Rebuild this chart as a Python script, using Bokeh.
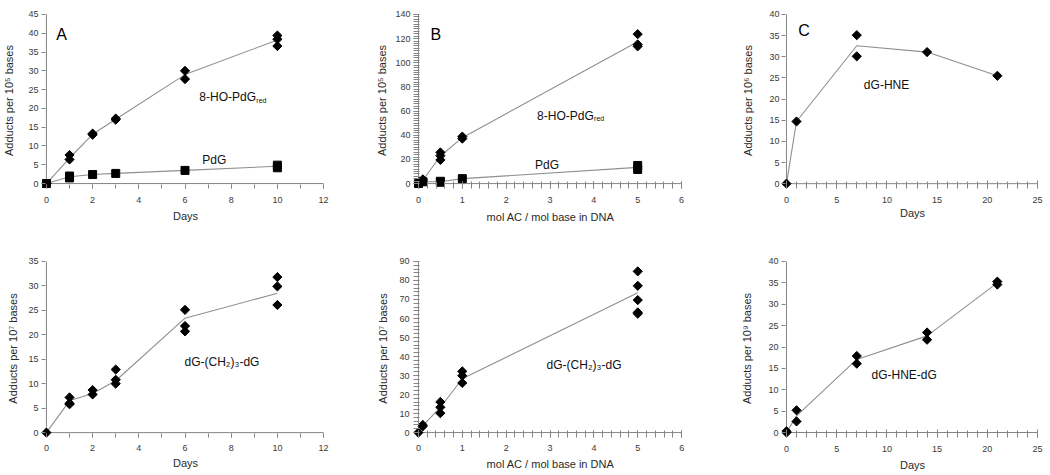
import math
from bokeh.plotting import figure
from bokeh.layouts import gridplot
from bokeh.models import Label, Range1d, SingleIntervalTicker
from bokeh.embed import file_html
from bokeh.resources import INLINE

# ---------------- data ----------------
# Panel A: adducts per 10^5 bases vs days
a_ho_days = [0, 1, 1, 2, 2, 3, 3, 6, 6, 10, 10, 10]
a_ho_vals = [0, 7.6, 6.4, 13.3, 13.0, 17.3, 17.0, 30.0, 27.8, 39.4, 38.4, 36.6]
a_mean_days = [0, 1, 2, 3, 6, 10]
a_ho_mean = [0, 6.8, 13.1, 17.1, 29.0, 38.2]
a_pdg_days = [0, 1, 1, 2, 3, 6, 10, 10]
a_pdg_vals = [0, 2.0, 1.5, 2.4, 2.7, 3.5, 4.9, 4.2]
a_pdg_mean = [0, 1.8, 2.4, 2.7, 3.5, 4.6]

# Panel B: adducts per 10^5 bases vs mol AC / mol base
b_ho_dose = [0, 0.1, 0.1, 0.5, 0.5, 0.5, 1, 1, 5, 5, 5]
b_ho_vals = [0, 3.5, 2.0, 25.8, 23.1, 19.6, 38.9, 37.2, 123.7, 115.2, 113.6]
b_mean_dose = [0, 0.1, 0.5, 1, 5]
b_ho_mean = [0, 2.8, 22.8, 38.0, 117.5]
b_pdg_dose = [0, 0.1, 0.5, 0.5, 1, 5, 5]
b_pdg_vals = [0, 1.5, 1.9, 1.1, 4.1, 15.0, 11.7]
b_pdg_mean = [0, 1.5, 1.5, 4.1, 13.4]

# Panel C: dG-HNE per 10^6 bases vs days
c_days = [0, 1, 7, 7, 14, 21]
c_vals = [0, 14.7, 35.1, 30.1, 31.1, 25.5]
c_mean_days = [0, 1, 7, 14, 21]
c_mean = [0, 14.7, 32.6, 31.1, 25.5]

# Panel D: dG-(CH2)3-dG per 10^7 bases vs days
d_days = [0, 1, 1, 1, 2, 2, 3, 3, 3, 6, 6, 6, 10, 10, 10]
d_vals = [0, 7.2, 6.0, 5.8, 8.7, 7.8, 12.9, 10.8, 10.0, 25.1, 21.8, 20.7, 31.8, 29.9, 26.1]
d_mean_days = [0, 1, 2, 3, 6, 10]
d_mean = [0, 6.5, 8.0, 10.6, 23.4, 28.5]

# Panel E: dG-(CH2)3-dG per 10^7 bases vs mol AC / mol base
e_dose = [0, 0.1, 0.1, 0.5, 0.5, 0.5, 1, 1, 1, 5, 5, 5, 5, 5]
e_vals = [0, 4.0, 3.3, 16.1, 13.3, 10.2, 32.2, 29.9, 26.1, 84.8, 77.2, 69.7, 63.2, 62.5]
e_mean_dose = [0, 0.1, 0.5, 1, 5]
e_mean = [0, 3.6, 13.2, 28.3, 73.5]

# Panel F: dG-HNE-dG per 10^9 bases vs days
f_days = [0, 0, 1, 1, 7, 7, 14, 14, 21, 21]
f_vals = [0, 0.3, 5.2, 2.6, 17.9, 16.1, 23.4, 21.7, 35.3, 34.6]
f_mean_days = [0, 1, 7, 14, 21]
f_mean = [0, 3.9, 17.1, 22.6, 35.0]

# ---------------- styling ----------------
AXIS_COLOR = "#858585"
TICK_TEXT = "#3a3a3a"
LABEL_TEXT = "#2a2a2a"
LINE_COLOR = "#8f8f8f"
FONT = "Liberation Sans"
PAD = 5  # px between frame edge and the data origin


class Panel:
    """A figure whose data origin / extent sit at given page pixel positions."""

    def __init__(self, fig_box, axis_box, xmax, ymax, xlabel, ylabel,
                 x_std, x_lab_std, y_std, y_lab_std):
        fl, ft, fw, fh = fig_box
        px0, px1, py0, py1 = axis_box
        self.px0, self.py0 = px0, py0
        self.xs = (px1 - px0) / xmax
        self.ys = (py0 - py1) / ymax
        padR, padT = 6, 2
        self.p = figure(
            width=fw, height=fh, output_backend="svg", toolbar_location=None,
            title=None,
            x_range=Range1d(-PAD / self.xs, xmax + padR / self.xs),
            y_range=Range1d(-PAD / self.ys, ymax + padT / self.ys),
            min_border_left=px0 - PAD - fl,
            min_border_right=max(0, fl + fw - (px1 + padR)),
            min_border_top=py1 - padT - ft,
            min_border_bottom=ft + fh - (py0 + PAD),
            background_fill_color="white", border_fill_color="white",
        )
        p = self.p
        p.outline_line_color = None
        p.grid.visible = False
        for ax in (p.xaxis, p.yaxis):
            ax.axis_line_color = None
            ax.major_tick_line_color = AXIS_COLOR
            ax.minor_tick_line_color = AXIS_COLOR
            ax.major_label_text_font = FONT
            ax.major_label_text_font_size = "9px"
            ax.major_label_text_color = TICK_TEXT
            ax.axis_label_text_font = FONT
            ax.axis_label_text_font_size = "11px"
            ax.axis_label_text_font_style = "normal"
            ax.axis_label_text_color = LABEL_TEXT
            ax.major_tick_out = 0
            ax.minor_tick_out = 0
        p.xaxis.bounds = (0, xmax)
        p.yaxis.bounds = (0, ymax)
        p.xaxis.axis_label = xlabel
        p.yaxis.axis_label = ylabel
        p.xaxis.major_label_standoff = x_std
        p.xaxis.axis_label_standoff = x_lab_std
        p.yaxis.major_label_standoff = y_std
        p.yaxis.axis_label_standoff = y_lab_std
        # visible axis lines drawn through the data origin
        p.line([0, xmax], [0, 0], line_color=AXIS_COLOR, line_width=1)
        p.line([0, 0], [0, ymax], line_color=AXIS_COLOR, line_width=1)

    def dx(self, page_x):
        return (page_x - self.px0) / self.xs

    def dy(self, page_y):
        return (self.py0 - page_y) / self.ys

    def text(self, page_x, page_y, txt, size="12px", color="#111111",
             x_offset=0, y_offset=0):
        self.p.add_layout(Label(
            x=self.dx(page_x), y=self.dy(page_y), text=txt,
            text_font=FONT, text_font_size=size, text_color=color,
            text_align="left", text_baseline="alphabetic",
            x_offset=x_offset, y_offset=y_offset))


def diamonds(p, x, y):
    p.scatter(x, y, marker="square", angle=math.pi / 4, size=6.5,
              fill_color="black", line_color="black")


def squares(p, x, y):
    p.scatter(x, y, marker="square", size=8, fill_color="black", line_color="black")


def mean_line(p, x, y):
    p.line(x, y, line_color=LINE_COLOR, line_width=1.1)


def style_days12(p):
    # ticks below the x axis, every day; labels every 2 days
    p.xaxis.ticker = SingleIntervalTicker(interval=2, num_minor_ticks=2)
    p.xaxis.major_tick_in = PAD - 1
    p.xaxis.minor_tick_in = PAD - 1


def style_yout(p, interval):
    p.yaxis.ticker = SingleIntervalTicker(interval=interval, num_minor_ticks=0)
    p.yaxis.major_tick_in = PAD - 1


def style_dose(p, y_interval, y_minor):
    p.xaxis.ticker = SingleIntervalTicker(interval=1, num_minor_ticks=5)
    p.xaxis.major_tick_in = PAD + 2
    p.xaxis.minor_tick_in = PAD + 2
    p.yaxis.ticker = SingleIntervalTicker(interval=y_interval, num_minor_ticks=y_minor)
    p.yaxis.major_tick_in = PAD
    p.yaxis.minor_tick_in = PAD + 1


def style_days25(p):
    p.xaxis.ticker = SingleIntervalTicker(interval=5, num_minor_ticks=5)
    p.xaxis.major_tick_in = PAD + 3
    p.xaxis.minor_tick_in = PAD + 2
    style_yout(p, 5)


# ---------------- panel A ----------------
A = Panel((0, 0, 350, 235), (42, 323, 183, 12), 12, 45,
          "Days", "Adducts per 10\u2075 bases", 8, 4, 3, 10)
style_days12(A.p)
style_yout(A.p, 5)
mean_line(A.p, a_mean_days, a_ho_mean)
mean_line(A.p, a_mean_days, a_pdg_mean)
diamonds(A.p, a_ho_days, a_ho_vals)
squares(A.p, a_pdg_days, a_pdg_vals)
A.text(52, 32, "A", size="16px", color="black")
A.text(197, 95.5, "8-HO-PdG")
A.text(197, 95.5, "red", size="7px", x_offset=57, y_offset=-3)
A.text(200, 159, "PdG")

# ---------------- panel B ----------------
B = Panel((350, 0, 350, 235), (418, 682, 184, 12), 6, 140,
          "mol AC / mol base in DNA", "Adducts per 10\u2075 bases", 8, 5, 3, 4)
style_dose(B.p, 20, 10)
mean_line(B.p, b_mean_dose, b_ho_mean)
mean_line(B.p, b_mean_dose, b_pdg_mean)
diamonds(B.p, b_ho_dose, b_ho_vals)
squares(B.p, b_pdg_dose, b_pdg_vals)
B.text(430, 32, "B", size="16px", color="black")
B.text(537, 115, "8-HO-PdG")
B.text(537, 115, "red", size="7px", x_offset=57, y_offset=-3)
B.text(535, 165, "PdG")

# ---------------- panel C ----------------
C = Panel((700, 0, 349, 235), (785, 1038, 189, 14), 25, 40,
          "Days", "Adducts per 10\u2076 bases", 8, 1, 2, 12)
style_days25(C.p)
mean_line(C.p, c_mean_days, c_mean)
diamonds(C.p, c_days, c_vals)
C.text(797, 31, "C", size="16px", color="black")
C.text(863, 87, "dG-HNE")

# ---------------- panel D ----------------
D = Panel((0, 235, 350, 239), (42, 323, 433, 258), 12, 35,
          "Days", "Adducts per 10\u2077 bases", 7, 3, 3, 6)
style_days12(D.p)
style_yout(D.p, 5)
mean_line(D.p, d_mean_days, d_mean)
diamonds(D.p, d_days, d_vals)
D.text(182, 361, "dG-(CH\u2082)\u2083-dG")

# ---------------- panel E ----------------
E = Panel((350, 235, 350, 239), (412, 681, 434, 261), 6, 90,
          "mol AC / mol base in DNA", "Adducts per 10\u2077 bases", 7, 4, 4, 7)
style_dose(E.p, 10, 5)
mean_line(E.p, e_mean_dose, e_mean)
diamonds(E.p, e_dose, e_vals)
E.text(543, 366, "dG-(CH\u2082)\u2083-dG")

# ---------------- panel F ----------------
F = Panel((700, 235, 349, 239), (786, 1037, 432, 260), 25, 40,
          "Days", "Adducts per 10\u2079 bases", 8, 4, 3, 12)
style_days25(F.p)
mean_line(F.p, f_mean_days, f_mean)
diamonds(F.p, f_days, f_vals)
F.text(871, 374, "dG-HNE-dG")

grid = gridplot([[A.p, B.p, C.p], [D.p, E.p, F.p]], toolbar_location=None)

open("out.html", "w").write(file_html(grid, INLINE))
